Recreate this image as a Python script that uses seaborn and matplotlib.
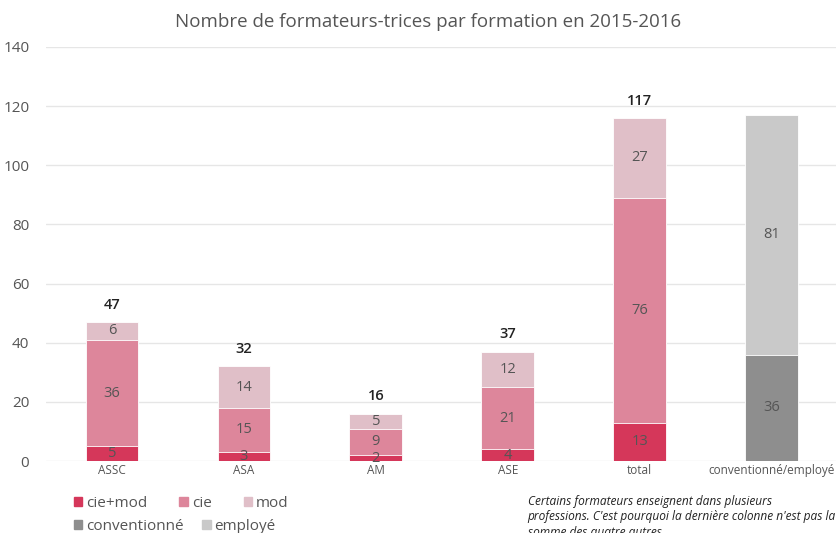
import seaborn as sns
import matplotlib.pyplot as plt
import pandas as pd
from matplotlib.patches import Patch

categories = ['ASSC', 'ASA', 'AM', 'ASE', 'total', 'conventionné/employé']
cie_mod = [5, 3, 2, 4, 13, 0]
cie = [36, 15, 9, 21, 76, 0]
mod = [6, 14, 5, 12, 27, 0]
conventionne = [0, 0, 0, 0, 0, 36]
employe = [0, 0, 0, 0, 0, 81]
totals = [47, 32, 16, 37, 117, None]

col_ciemod = '#d5375a'
col_cie = '#dd869b'
col_mod = '#e0bfc8'
col_conv = '#8e8e8e'
col_empl = '#c9c9c9'
txt = '#555555'

sns.set_theme(style='white')
plt.rcParams['font.family'] = ['Open Sans', 'DejaVu Sans']

df = pd.DataFrame({'cat': categories, 'cie_mod': cie_mod, 'cie': cie, 'mod': mod,
                   'conv': conventionne, 'empl': employe})
df['l1'] = df['cie_mod']
df['l2'] = df['l1'] + df['cie']
df['l3'] = df['l2'] + df['mod']
df['g1'] = df['conv']
df['g2'] = df['g1'] + df['empl']

fig = plt.figure(figsize=(8.36, 5.33), dpi=100)
ax = fig.add_axes([0.055, 0.135, 0.947, 0.777])

kw = dict(x='cat', order=categories, width=0.4, linewidth=0.6, edgecolor='white', ax=ax)
sns.barplot(data=df, y='l3', color=col_mod, saturation=1, **kw)
sns.barplot(data=df, y='l2', color=col_cie, saturation=1, **kw)
sns.barplot(data=df, y='l1', color=col_ciemod, saturation=1, **kw)
sns.barplot(data=df, y='g2', color=col_empl, saturation=1, **kw)
sns.barplot(data=df, y='g1', color=col_conv, saturation=1, **kw)

# hide zero-height bars' edges
for p in ax.patches:
    if p.get_height() == 0:
        p.set_visible(False)

# segment labels
for i in range(len(categories)):
    segs = [(0, cie_mod[i]), (cie_mod[i], cie[i]), (cie_mod[i] + cie[i], mod[i]),
            (0, conventionne[i]), (conventionne[i], employe[i])]
    for base, h in segs:
        if h > 0:
            ax.text(i, base + h / 2, str(h), ha='center', va='center', fontsize=10.5, color=txt)
    if totals[i] is not None:
        top = cie_mod[i] + cie[i] + mod[i]
        ax.text(i, top + 3.5, str(totals[i]), ha='center', va='bottom', fontsize=10.5,
                fontweight='semibold', color='#222222')

ax.set_ylim(0, 140)
ax.set_xlim(-0.5, 5.5)
ax.set_yticks(range(0, 141, 20))
ax.yaxis.grid(True, color='#e6e6e6', linewidth=1)
ax.set_axisbelow(True)
for s in ax.spines.values():
    s.set_visible(False)
ax.tick_params(axis='y', labelsize=11, colors=txt, length=0, pad=12)
ax.tick_params(axis='x', labelsize=8.5, colors=txt, length=0, pad=2)
ax.set_xlabel('')
ax.set_ylabel('')

fig.text(0.512, 0.958, 'Nombre de formateurs-trices par formation en 2015-2016',
         ha='center', va='center', fontsize=13.5, color=txt)

h1 = [Patch(color=col_ciemod), Patch(color=col_cie), Patch(color=col_mod)]
fig.legend(h1, ['cie+mod', 'cie', 'mod'], loc='center left', bbox_to_anchor=(0.072, 0.056),
           ncol=3, frameon=False, fontsize=11, handlelength=0.55, handleheight=0.55,
           handletextpad=0.25, columnspacing=2.1, labelcolor=txt)
h2 = [Patch(color=col_conv), Patch(color=col_empl)]
fig.legend(h2, ['conventionné', 'employé'], loc='center left', bbox_to_anchor=(0.072, 0.012),
           ncol=2, frameon=False, fontsize=11, handlelength=0.55, handleheight=0.55,
           handletextpad=0.25, columnspacing=1.2, labelcolor=txt)

fig.text(0.631, 0.072, "Certains formateurs enseignent dans plusieurs\n"
         "professions. C'est pourquoi la dernière colonne n'est pas la\n"
         "somme des quatre autres.", ha='left', va='top', fontsize=8.6,
         style='italic', color='#222222', linespacing=1.25)

fig.savefig('out.png', dpi=100)
